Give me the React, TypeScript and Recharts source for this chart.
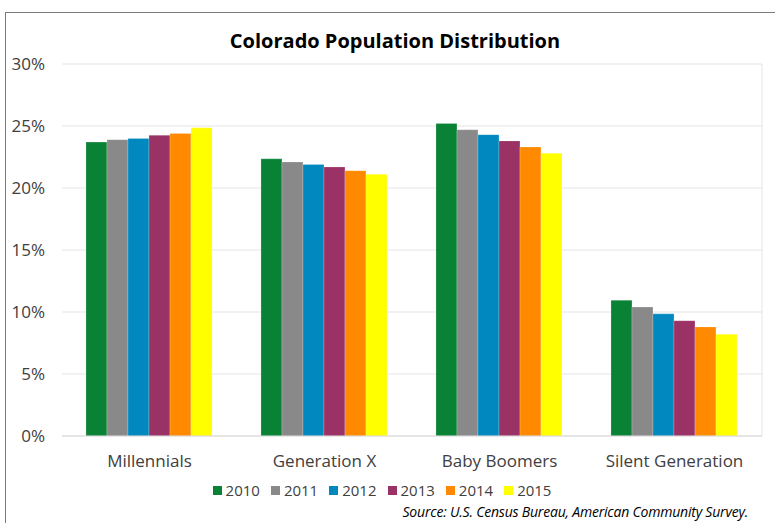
import React from "react";
import { BarChart, Bar, XAxis, YAxis, CartesianGrid, Legend } from "recharts";

const categories = ["Millennials", "Generation X", "Baby Boomers", "Silent Generation"];
const years = ["2010", "2011", "2012", "2013", "2014", "2015"];
const colors = ["#0a8236", "#898989", "#0088bf", "#9b3265", "#ff8a00", "#ffff00"];
const v2010 = [23.7, 22.35, 25.2, 10.95];
const v2011 = [23.9, 22.1, 24.7, 10.4];
const v2012 = [24.0, 21.9, 24.3, 9.85];
const v2013 = [24.25, 21.7, 23.8, 9.3];
const v2014 = [24.4, 21.4, 23.3, 8.8];
const v2015 = [24.85, 21.1, 22.8, 8.2];
const yTicks = [0, 5, 10, 15, 20, 25, 30];

const seriesValues = [v2010, v2011, v2012, v2013, v2014, v2015];
const data = categories.map((c, i) => {
  const row: Record<string, string | number> = { name: c };
  years.forEach((y, k) => {
    row[y] = seriesValues[k][i];
  });
  return row;
});

const font = "'Open Sans', 'Noto Sans', sans-serif";

const renderLegend = (props: any) => {
  const payload = props.payload || [];
  return (
    <div style={{ height: 20, display: "flex", justifyContent: "center", alignItems: "center", paddingRight: 10, fontFamily: font, fontSize: 15, color: "#404040" }}>
      {payload.map((p: any, i: number) => (
        <div key={i} style={{ display: "flex", alignItems: "center", marginRight: i < payload.length - 1 ? 11 : 0 }}>
          <span style={{ display: "inline-block", width: 9, height: 9, background: p.color, marginRight: 4 }} />
          <span>{p.value}</span>
        </div>
      ))}
    </div>
  );
};

export default function App() {
  return (
    <div style={{ position: "absolute", left: 0, top: 0, width: 775, height: 523, overflow: "hidden", background: "#fff", fontFamily: font }}>
      <div style={{ position: "absolute", left: 5, top: 12, width: 800, height: 600, border: "1px solid #7a7a7a", boxSizing: "border-box" }} />
      <div style={{ position: "absolute", left: 0, width: 790, top: 27, textAlign: "center", fontWeight: 700, fontSize: 20, color: "#000" }}>
        Colorado Population Distribution
      </div>
      <div style={{ position: "absolute", left: 0, top: 0 }}>
        <BarChart
          width={775}
          height={523}
          data={data}
          margin={{ top: 64, right: 13, bottom: 23, left: 12 }}
          barCategoryGap="13.7%"
          barGap={0}
        >
          <CartesianGrid
            stroke="#e4e4e4"
            verticalCoordinatesGenerator={({ offset }: any) => [offset.left + offset.width]}
          />
          <XAxis
            dataKey="name"
            tickLine={false}
            axisLine={{ stroke: "#d9d9d9" }}
            height={44}
            tickMargin={13}
            tick={{ fill: "#404040", fontSize: 17, fontFamily: font }}
          />
          <YAxis
            width={50}
            domain={[0, 30]}
            ticks={yTicks}
            tickFormatter={(v: number) => `${v}%`}
            tickLine={false}
            axisLine={false}
            tickMargin={11}
            tick={{ fill: "#404040", fontSize: 17, fontFamily: font }}
          />
          <Legend verticalAlign="bottom" align="center" content={renderLegend} />
          {years.map((y, k) => (
            <Bar key={y} dataKey={y} fill={colors[k]} stroke="#ffffff" strokeOpacity={0.4} strokeWidth={0.5} isAnimationActive={false} />
          ))}
        </BarChart>
      </div>
      <div style={{ position: "absolute", right: 27, top: 502, fontStyle: "italic", fontSize: 14, color: "#000", letterSpacing: -0.2 }}>
        Source: U.S. Census Bureau, American Community Survey.
      </div>
    </div>
  );
}
